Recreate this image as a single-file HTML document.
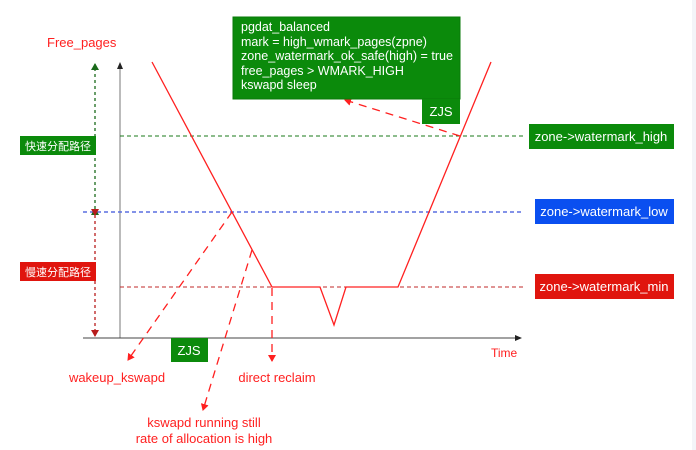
<!DOCTYPE html>
<html><head><meta charset="utf-8"><style>
html,body{margin:0;padding:0;background:#fff;width:696px;height:450px;overflow:hidden}
svg{display:block}
text{font-family:"Liberation Sans","Noto Sans CJK SC",sans-serif}
</style></head><body>
<svg width="696" height="450" viewBox="0 0 696 450" xmlns="http://www.w3.org/2000/svg">
<rect x="692" y="0" width="4" height="450" fill="#f3f4f8"/>
<defs>
<marker id="ar" markerWidth="8" markerHeight="8" refX="6" refY="4" orient="auto" markerUnits="userSpaceOnUse"><path d="M0,0 L7,4 L0,8 Z" fill="#ff2020"/></marker>
<marker id="ak" markerWidth="8" markerHeight="8" refX="6" refY="4" orient="auto" markerUnits="userSpaceOnUse"><path d="M0,1 L7,4 L0,7 Z" fill="#222"/></marker>
<marker id="ag" markerWidth="8" markerHeight="8" refX="6" refY="4" orient="auto" markerUnits="userSpaceOnUse"><path d="M0,0 L7,4 L0,8 Z" fill="#1a6a1a"/></marker>
<marker id="ad" markerWidth="8" markerHeight="8" refX="6" refY="4" orient="auto" markerUnits="userSpaceOnUse"><path d="M0,0 L7,4 L0,8 Z" fill="#b81c1c"/></marker>
</defs>
<text x="47" y="47" font-size="13" fill="#ff2020">Free_pages</text>
<line x1="120" y1="338" x2="120" y2="63" stroke="#777" stroke-width="1" marker-end="url(#ak)"/>
<line x1="83" y1="338" x2="521" y2="338" stroke="#444" stroke-width="1" marker-end="url(#ak)"/>
<text x="491" y="357" font-size="12" fill="#ff2020">Time</text>
<line x1="120" y1="136" x2="523" y2="136" stroke="#1a7a1a" stroke-dasharray="4,3"/>
<line x1="83" y1="212" x2="523" y2="212" stroke="#5a6fe0" stroke-width="1.5" stroke-dasharray="4,3"/>
<line x1="120" y1="287" x2="523" y2="287" stroke="#c02a2a" stroke-dasharray="4,3"/>
<line x1="95" y1="209" x2="95" y2="64" stroke="#1a6a1a" stroke-width="1.3" stroke-dasharray="3,3" marker-start="url(#ag)" marker-end="url(#ag)"/>
<line x1="95" y1="215" x2="95" y2="336" stroke="#b81c1c" stroke-width="1.3" stroke-dasharray="3,3" marker-start="url(#ad)" marker-end="url(#ad)"/>
<rect x="20" y="136" width="76" height="19" fill="#0b8a0b"/>
<text x="58" y="150" font-size="11" fill="#fff" text-anchor="middle">快速分配路径</text>
<rect x="20" y="262" width="76" height="19" fill="#e0150e"/>
<text x="58" y="276" font-size="11" fill="#fff" text-anchor="middle">慢速分配路径</text>
<polyline points="152,62 272,287 320,287 334,325 346,287 398,287 491,62" fill="none" stroke="#ff2020" stroke-width="1.3"/>
<line x1="232" y1="212" x2="128" y2="360" stroke="#ff2020" stroke-width="1.3" stroke-dasharray="8,6" marker-end="url(#ar)"/>
<line x1="252" y1="250" x2="203" y2="410" stroke="#ff2020" stroke-width="1.3" stroke-dasharray="8,6" marker-end="url(#ar)"/>
<line x1="272" y1="288" x2="272" y2="361" stroke="#ff2020" stroke-width="1.3" stroke-dasharray="8,6" marker-end="url(#ar)"/>
<line x1="460" y1="136" x2="345" y2="100" stroke="#ff2020" stroke-width="1.3" stroke-dasharray="8,6" marker-end="url(#ar)"/>
<rect x="233" y="17" width="227" height="82" fill="#0b8a0b" stroke="#0a7a0a"/>
<rect x="422" y="99" width="38" height="25" fill="#0b8a0b"/>
<text x="441" y="116" font-size="13" fill="#fff" text-anchor="middle">ZJS</text>
<g font-size="12.5" fill="#fff">
<text x="241" y="31">pgdat_balanced</text>
<text x="241" y="46">mark = high_wmark_pages(zpne)</text>
<text x="241" y="60" textLength="212" lengthAdjust="spacingAndGlyphs">zone_watermark_ok_safe(high) = true</text>
<text x="241" y="75">free_pages &gt; WMARK_HIGH</text>
<text x="241" y="89">kswapd sleep</text>
</g>
<rect x="529" y="124" width="145" height="25" fill="#0b8a0b"/>
<text x="601" y="141" font-size="13" fill="#fff" text-anchor="middle">zone-&gt;watermark_high</text>
<rect x="535" y="199" width="139" height="25" fill="#0a4ff0"/>
<text x="604" y="216" font-size="13" fill="#fff" text-anchor="middle">zone-&gt;watermark_low</text>
<rect x="535" y="274" width="139" height="25" fill="#e0150e"/>
<text x="604" y="291" font-size="13" fill="#fff" text-anchor="middle">zone-&gt;watermark_min</text>
<rect x="171" y="338" width="37" height="24" fill="#0b8a0b"/>
<text x="189" y="355" font-size="13" fill="#fff" text-anchor="middle">ZJS</text>
<g font-size="13" fill="#ff2020" text-anchor="middle">
<text x="117" y="382">wakeup_kswapd</text>
<text x="277" y="382">direct reclaim</text>
<text x="204" y="427">kswapd running still</text>
<text x="204" y="443">rate of allocation is high</text>
</g>
</svg>
</body></html>
